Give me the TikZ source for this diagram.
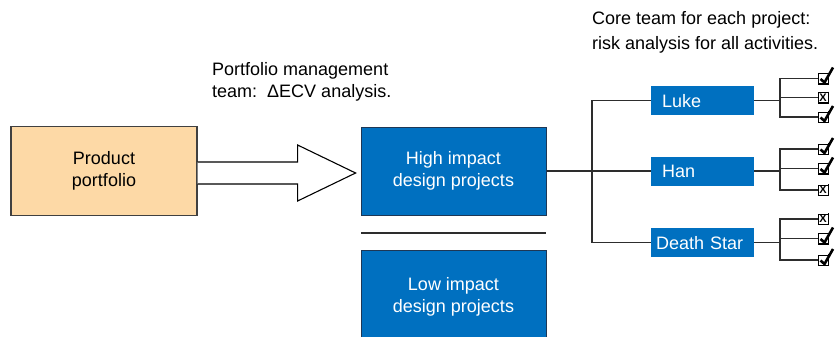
\documentclass[tikz,border=0pt]{standalone}
\usepackage{fontspec}
\setmainfont{Liberation Sans}
\definecolor{projblue}{RGB}{0,112,192}
\definecolor{projedge}{RGB}{30,55,85}
\definecolor{portfolio}{RGB}{253,217,166}
\definecolor{wire}{RGB}{45,45,45}
\begin{document}
\begin{tikzpicture}[x=1pt,y=-1pt,
  txt/.style={font=\fontsize{18}{22}\selectfont, inner sep=0pt, align=left},
  bigbox/.style={draw=projedge, line width=1pt, fill=projblue, text=white,
    minimum width=185pt, align=center, font=\fontsize{18}{22}\selectfont},
  teambox/.style={fill=projblue, text=white, minimum width=103pt, minimum height=29pt,
    text width=103pt-2*#1, inner xsep=#1, align=left, text height=13pt, text depth=0pt,
    font=\fontsize{18}{22}\selectfont},
  conn/.style={draw=wire, line width=1.1pt},
  cbox/.style={draw=black, line width=0.8pt, fill=white, minimum size=10pt, inner sep=0pt},
  xbox/.style={cbox, font=\fontsize{11}{11}\selectfont\bfseries},
  tickmark/.style={draw=black, line width=2.6pt, line join=miter, line cap=butt},
  shadowedge/.style={draw=black, line width=1.6pt}
]
\useasboundingbox (0,0) rectangle (835,337);

% portfolio source box
\node[draw=black!75, line width=1.2pt, fill=portfolio, minimum width=186pt, minimum height=89pt,
  align=center, font=\fontsize{18}{22}\selectfont] (prod) at (104,171) {Product\\portfolio};

% project groups
\node[bigbox, minimum height=88pt] (high) at (453.5,171) {High impact\\design projects};
\node[bigbox, minimum height=92pt] (low) at (453.5,296.5) {Low impact\\design projects};
\draw[conn] (361,233) coordinate (sepL) -- (546,233) coordinate (sepR);

% hollow arrow from the portfolio to the high impact projects
\filldraw[fill=white, draw=black, line width=1.1pt, line join=miter]
  ([shift={(0,-9)}]prod.east) -- ([shift={(100,-9)}]prod.east) -- ([shift={(100,-26)}]prod.east)
  -- ([shift={(158,2)}]prod.east) -- ([shift={(100,30)}]prod.east) -- ([shift={(100,13)}]prod.east)
  -- ([shift={(0,13)}]prod.east);

% annotations
\node[txt, anchor=north west] (pmteam) at (212,62.5) {Portfolio management\\team:\ \ ΔECV analysis.};
\node[txt, font=\fontsize{18}{25}\selectfont, anchor=north west] (coreteam) at (592,11.5)
  {Core team for each project:\\risk analysis for all activities.};

% core teams
\node[teambox=11pt] (luke) at (702.5,100.5) {Luke};
\node[teambox=11pt] (han) at (702.5,171) {Han};
\node[teambox=5pt] (ds) at (702.5,242.5) {Death Star};

\coordinate (trunk) at (592,171);
\draw[conn] (high.east) -- (han.west);
\draw[conn] (luke.west) -| (trunk |- ds.west) -- (ds.west);

% activity check boxes
\node[cbox] (l1) at (823,78.5) {};
\node[xbox] (l2) at (823,97.5) {X};
\node[cbox] (l3) at (823,117) {};
\node[cbox] (h1) at (823,149) {};
\node[cbox] (h2) at (823,168.5) {};
\node[xbox] (h3) at (823,190) {X};
\node[xbox] (d1) at (823,219) {X};
\node[cbox] (d2) at (823,238.5) {};
\node[cbox] (d3) at (823,260) {};

\coordinate (lb) at (780,0);
\coordinate (hb) at (780,0);
\coordinate (db) at (780,0);
\draw[conn] (luke.east) -- (lb |- luke.east);
\draw[conn] (l1.west) -| (lb |- l3.west) -- (l3.west);
\draw[conn] (l2.west) -- (lb |- l2.west);
\draw[conn] (han.east) -- (hb |- han.east);
\draw[conn] (h1.west) -| (hb |- h3.west) -- (h3.west);
\draw[conn] (h2.west) -- (hb |- h2.west);
\draw[conn] (ds.east) -- (db |- ds.east);
\draw[conn] (d1.west) -| (db |- d3.west) -- (d3.west);
\draw[conn] (d2.west) -- (db |- d2.west);

% heavier right and bottom edges on every box
\foreach \b in {l1,l2,l3,h1,h2,h3,d1,d2,d3}
  \draw[shadowedge] ([shift={(0,-0.4)}]\b.north east) -- (\b.south east) -- (\b.south west);

% tick marks
\foreach \b in {l1,l3,h1,h2,d2,d3}
  \draw[tickmark] ([shift={(-2.5,0.5)}]\b.center) -- ([shift={(1.5,4)}]\b.center)
    -- ([shift={(10,-11)}]\b.center);
\end{tikzpicture}
\end{document}
